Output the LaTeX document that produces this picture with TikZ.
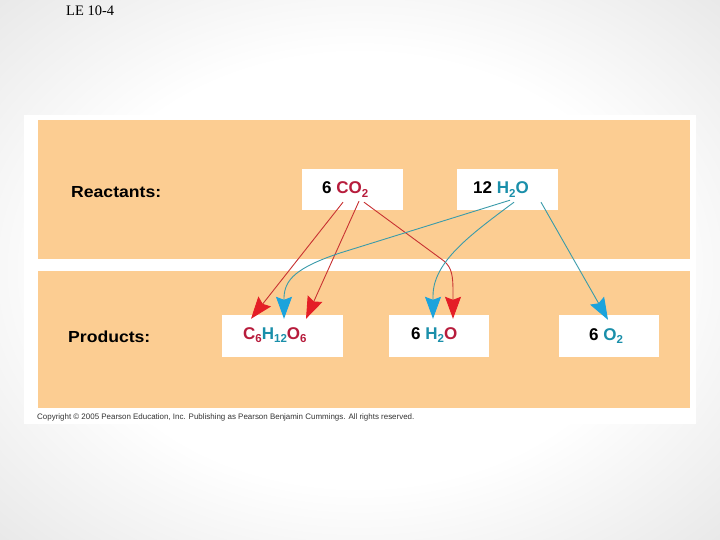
\documentclass[tikz,border=0pt]{standalone}
\usepackage{fontspec}
\setmainfont{Liberation Sans}
\newfontfamily\labfont[FakeStretch=1.1]{Liberation Sans}
\newfontfamily\serfont{Liberation Serif}
\usetikzlibrary{arrows.meta,calc}
\definecolor{orng}{HTML}{FCCD92}
\definecolor{crim}{HTML}{B71C3C}
\definecolor{tealtx}{HTML}{1A8FAA}
\definecolor{redline}{HTML}{C83232}
\definecolor{redhead}{HTML}{E41E26}
\definecolor{blueline}{HTML}{3A9BAA}
\definecolor{bluehead}{HTML}{1BA3DC}
\pgfdeclareradialshading{slidebg}{\pgfpoint{0bp}{0bp}}{color(0bp)=(white); color(20bp)=(white); color(50bp)=(black!17)}
\newcommand{\chsub}[1]{\raisebox{-3.5pt}{\fontsize{11.5}{11.5}\selectfont #1}}
\begin{document}
\begin{tikzpicture}[x=1pt,y=-1pt,
  band/.style={fill=orng},
  whitebox/.style={rectangle,fill=white,inner sep=0pt,minimum height=41pt},
  chem/.style={anchor=base west,inner sep=0pt,font=\fontsize{17}{17}\selectfont\bfseries},
  rowlabel/.style={anchor=base west,inner sep=0pt,font=\labfont\fontsize{16}{16}\selectfont\bfseries},
  redarr/.style={draw=redline,line width=0.9pt,-{Stealth[length=22pt,width=16pt,inset=3pt,color=redhead]}},
  bluearr/.style={draw=blueline,line width=0.9pt,-{Stealth[length=22pt,width=16pt,inset=3pt,color=bluehead]}}]
\useasboundingbox (0,0) rectangle (720,540);
\shade[shading=slidebg] (0,0) rectangle (720,540);
% panel
\fill[white] (24,115) rectangle (696,424);
\fill[band] (38,120) rectangle (690,259);
\fill[band] (38,271) rectangle (690,408);
% title
\node[anchor=base west,inner sep=0pt,font=\serfont\fontsize{14.5}{15}\selectfont] (title) at (66,16) {LE 10-4};
% row labels
\node[rowlabel] (react) at (71,198) {Reactants:};
\node[rowlabel] (prod) at (68,342) {Products:};
% boxes
\node[whitebox,minimum width=101pt] (co2) at (352.5,189.5) {};
\node[whitebox,minimum width=101pt] (h2o) at (507.5,189.5) {};
\node[whitebox,minimum width=121pt,minimum height=42pt] (glc) at (282.5,336) {};
\node[whitebox,minimum width=100pt,minimum height=42pt] (wat) at (439,336) {};
\node[whitebox,minimum width=100pt,minimum height=42pt] (oxy) at (609,336) {};
% texts
\node[chem] (co2t) at (322,194) {6 \textcolor{crim}{CO\chsub{2}}};
\node[chem] (h2ot) at (473,194) {12 \textcolor{tealtx}{H\chsub{2}O}};
\node[chem] (glct) at (243,339) {\textcolor{crim}{C\chsub{6}}\textcolor{tealtx}{H\chsub{12}}\textcolor{crim}{O\chsub{6}}};
\node[chem] (watt) at (411,339) {6 \textcolor{tealtx}{H\chsub{2}}\textcolor{crim}{O}};
\node[chem] (oxyt) at (589,340) {6 \textcolor{tealtx}{O\chsub{2}}};
% copyright
\node[anchor=base west,inner sep=0pt,font=\fontsize{7.95}{8.5}\selectfont,text=black!80] (copy) at (37,419) {Copyright \textcopyright\ 2005 Pearson Education, Inc. Publishing as Pearson Benjamin Cummings. All rights reserved.};
% red arrows
\draw[redarr] ($(co2.south)+(-9.5,-8)$) -- ($(glc.north)+(-31.5,4)$);
\draw[redarr] ($(co2.south)+(6.5,-9)$) -- ($(glc.north)+(23.5,4)$);
\draw[redarr] ($(co2.south)+(11.5,-8)$) -- (444,261) .. controls (452,268) and (453,276) .. (453,292) -- ($(wat.north)+(14,4)$);
% blue arrows
\draw[bluearr] ($(h2o.south)+(2.5,-10)$) -- (340,253) .. controls (295,268) and (285,280) .. (284,297) -- ($(glc.north)+(1.5,4)$);
\draw[bluearr] ($(h2o.south)+(6.5,-8)$) .. controls (470,235) and (433,262) .. (433,296) -- ($(wat.north)+(-6,4)$);
\draw[bluearr] ($(h2o.south)+(33.5,-8)$) -- ($(oxy.north)+(-1,5)$);
\end{tikzpicture}
\end{document}
